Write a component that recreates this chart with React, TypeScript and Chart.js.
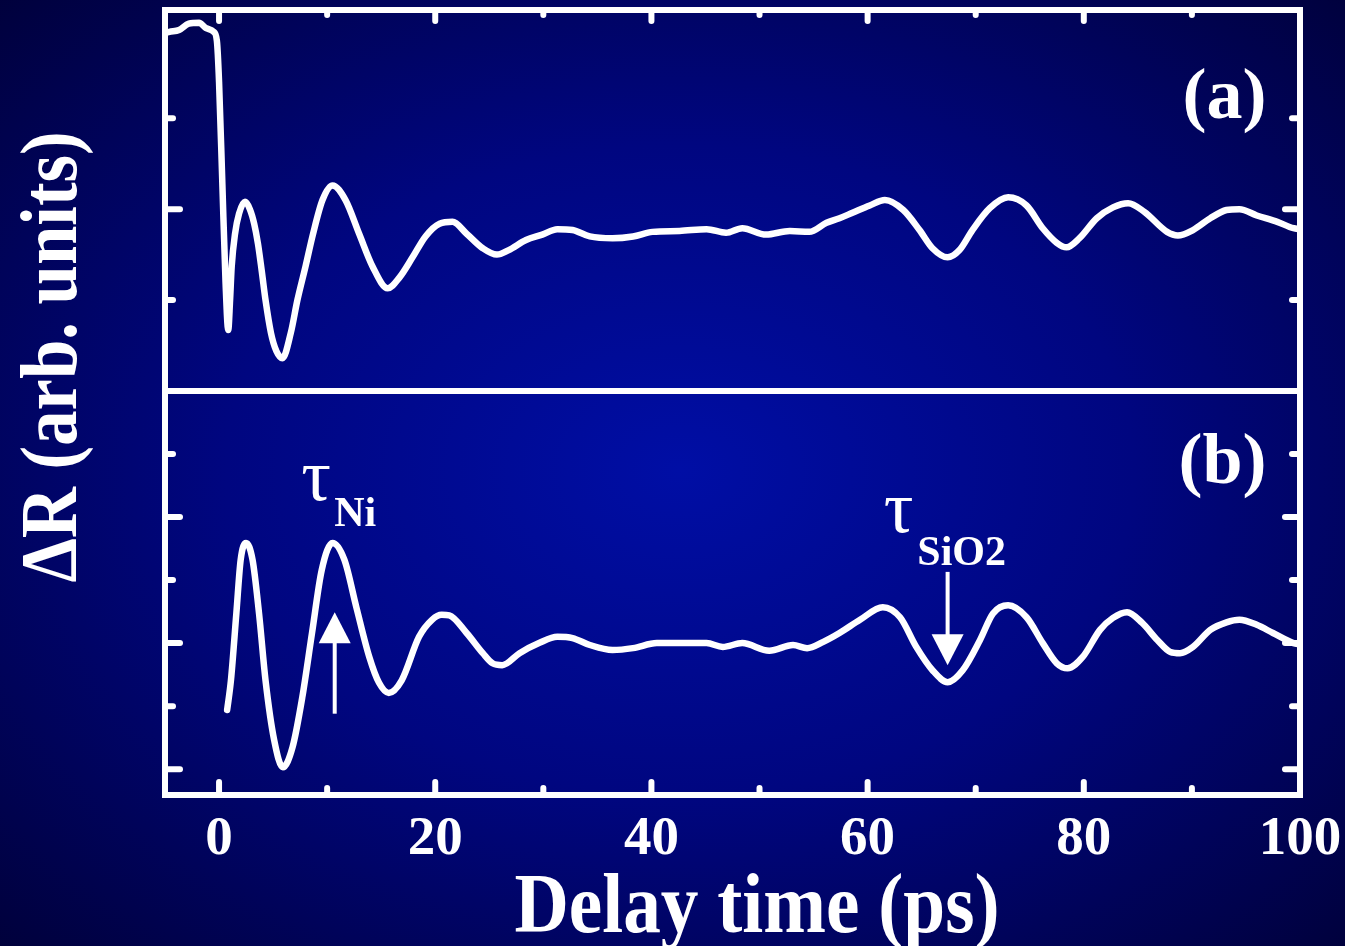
import React, { useEffect, useRef } from "react";
import { Chart, registerables } from "chart.js";

Chart.register(...registerables);

// ---- axis ticks ----
const xTickValues = [0, 20, 40, 60, 80, 100];
const xTickLabels = ["0", "20", "40", "60", "80", "100"];
const xMinorTicks = [10, 30, 50, 70, 90];
const yAMajorTicks = [0];
const yAMinorTicks = [-1, 1];
const yBMajorTicks = [-2, 0, 2];
const yBMinorTicks = [-1, 1, 3];

// ---- texts ----
const xTitle = "Delay time (ps)";
const yTitle = "ΔR (arb. units)";
const panelLabels = ["(a)", "(b)"];

// ---- series (a): [delay ps, ΔR arb.] ----
const panelA: [number, number][] = [
  [-4.9, 1.94], [-4.6, 1.95], [-3.7, 1.97], [-2.8, 2.04], [-1.85, 2.05], [-1.2, 1.99],
  [-0.5, 1.95], [-0.2, 1.85], [0.0, 1.4], [0.3, 0.3], [0.6, -0.8], [0.85, -1.33],
  [1.02, -1.0], [1.17, -0.63], [1.48, -0.27], [1.85, -0.05], [2.4, 0.08], [2.85, 0.0],
  [3.25, -0.16], [3.6, -0.38], [3.95, -0.68], [4.3, -1.0], [4.8, -1.36], [5.3, -1.56],
  [5.86, -1.64], [6.64, -1.36],
  [7.25, -1.0], [8.0, -0.63], [8.7, -0.27], [9.57, 0.1], [10.5, 0.26], [11.7, 0.1],
  [12.96, -0.27], [14.2, -0.63], [15.6, -0.87], [16.7, -0.75], [17.9, -0.53], [19.1, -0.3],
  [20.4, -0.16], [21.6, -0.14],
  [22.9, -0.27], [24.4, -0.43], [25.7, -0.5], [26.8, -0.45], [28.4, -0.34], [29.9, -0.28],
  [31.3, -0.22], [32.7, -0.23], [34.3, -0.3], [36.4, -0.32], [38.3, -0.3], [40.1, -0.25],
  [42.6, -0.24], [45.1, -0.22], [46.9, -0.26], [48.4, -0.21], [50.6, -0.28], [52.8, -0.24],
  [54.6, -0.25], [56.2, -0.15], [57.4, -0.1], [58.6, -0.04], [60.2, 0.04], [61.6, 0.1],
  [63.3, -0.01], [64.8, -0.23], [66.0, -0.43], [67.4, -0.53], [68.5, -0.45], [69.7, -0.23],
  [71.3, 0.01], [73.0, 0.13], [74.7, 0.04], [76.2, -0.21], [77.5, -0.37], [78.4, -0.42],
  [79.6, -0.32], [81.2, -0.1], [82.7, 0.02], [84.1, 0.066], [85.6, -0.03], [87.7, -0.25],
  [88.7, -0.29], [90.1, -0.23], [91.7, -0.1], [93.2, -0.01], [94.4, 0.0], [96.0, -0.07],
  [97.9, -0.14], [99.4, -0.21], [100, -0.22],
];

// ---- series (b): [delay ps, ΔR arb.] ----
const panelB: [number, number][] = [
  [0.75, -1.06], [1.1, -0.59], [1.6, 0.47], [2.0, 1.32], [2.5, 1.59], [3.1, 1.32],
  [3.7, 0.47], [4.3, -0.59], [5.1, -1.54], [5.9, -1.97], [6.8, -1.65], [7.7, -0.86],
  [8.6, 0.16], [9.5, 1.16], [10.5, 1.59], [11.6, 1.32], [12.7, 0.57], [13.9, -0.22],
  [14.8, -0.63], [15.7, -0.79], [16.9, -0.59], [18.5, 0.1], [19.7, 0.37], [20.6, 0.45],
  [21.3, 0.44], [22.9, 0.16], [24.4, -0.16], [25.3, -0.32], [26.2, -0.35], [27.8, -0.16],
  [29.6, 0.0], [31.3, 0.1], [32.7, 0.08], [34.3, -0.03], [36.4, -0.11], [38.3, -0.08],
  [40.5, 0.0], [42.6, 0.0], [45.1, 0.0], [46.6, -0.06], [48.4, 0.0], [50.9, -0.12],
  [53.1, -0.03], [54.4, -0.08], [55.9, 0.02], [57.4, 0.16], [59.3, 0.37], [61.4, 0.57],
  [63.0, 0.41], [64.5, -0.06], [66.0, -0.43], [67.4, -0.62], [68.8, -0.43], [70.4, 0.05],
  [71.6, 0.47], [73.0, 0.6], [74.7, 0.41], [76.2, 0.0], [77.5, -0.32], [78.5, -0.4],
  [79.9, -0.22], [81.5, 0.21], [82.7, 0.4], [84.0, 0.49], [85.4, 0.32], [86.8, 0.05],
  [88.0, -0.14], [88.9, -0.16], [90.1, -0.06], [91.7, 0.21], [93.2, 0.33], [94.4, 0.37],
  [96.0, 0.29], [97.5, 0.16], [99.4, 0.0], [100, -0.02],
];

// ---- annotations (data coordinates in panel b) ----
const niArrow = { x: 10.7, from: -1.12, to: 0.49 };
const sioArrow = { x: 67.4, from: 1.13, to: -0.35 };
const niLabel = { tauX: 7.6, tauY: 2.27, subX: 10.65, subY: 1.86, sub: "Ni" };
const sioLabel = { tauX: 61.5, tauY: 1.76, subX: 64.6, subY: 1.24, sub: "SiO2" };
const tau = "τ";

const SERIF = '"Liberation Serif", "Times New Roman", serif';

export default function App() {
  const ref = useRef<HTMLCanvasElement | null>(null);

  useEffect(() => {
    const canvas = ref.current;
    if (!canvas) return;

    const bgPlugin = {
      id: "bgGradient",
      beforeDraw(chart: any) {
        const ctx = chart.ctx;
        ctx.save();
        ctx.translate(680, 470);
        ctx.scale(1.4, 1);
        const g = ctx.createRadialGradient(0, 0, 0, 0, 0, 720);
        g.addColorStop(0, "rgb(0,14,165)");
        g.addColorStop(0.45, "rgb(0,6,128)");
        g.addColorStop(1, "rgb(0,0,52)");
        ctx.fillStyle = g;
        ctx.fillRect(-520, -520, 1040, 1040);
        ctx.restore();
      },
    };

    const framePlugin = {
      id: "frameTicks",
      afterDatasetsDraw(chart: any) {
        const ctx = chart.ctx;
        const { left, right, top, bottom } = chart.chartArea;
        const xs = chart.scales.x;
        const ya = chart.scales.yA;
        const yb = chart.scales.yB;
        ctx.save();
        ctx.strokeStyle = "#ffffff";
        ctx.lineWidth = 6;
        ctx.lineJoin = "miter";
        ctx.strokeRect(left, top, right - left, bottom - top);
        const mid = ya.bottom;
        ctx.beginPath();
        ctx.moveTo(left, mid);
        ctx.lineTo(right, mid);
        ctx.stroke();

        ctx.lineCap = "round";
        const seg = (x0: number, y0: number, x1: number, y1: number) => {
          ctx.beginPath();
          ctx.moveTo(x0, y0);
          ctx.lineTo(x1, y1);
          ctx.stroke();
        };
        xTickValues.forEach((v) => {
          const x = xs.getPixelForValue(v);
          seg(x, top, x, top + 11);
          seg(x, bottom, x, bottom - 13);
        });
        xMinorTicks.forEach((v) => {
          const x = xs.getPixelForValue(v);
          seg(x, top, x, top + 5);
          seg(x, bottom, x, bottom - 7);
        });
        const yTicks = (scale: any, vals: number[], len: number) => {
          vals.forEach((v) => {
            const y = scale.getPixelForValue(v);
            seg(left, y, left + len, y);
            seg(right, y, right - len, y);
          });
        };
        yTicks(ya, yAMajorTicks, 15);
        yTicks(ya, yAMinorTicks, 8);
        yTicks(yb, yBMajorTicks, 15);
        yTicks(yb, yBMinorTicks, 8);
        ctx.restore();
      },
      afterDraw(chart: any) {
        const ctx = chart.ctx;
        const xs = chart.scales.x;
        const ya = chart.scales.yA;
        const yb = chart.scales.yB;
        ctx.save();
        ctx.fillStyle = "#ffffff";
        ctx.strokeStyle = "#ffffff";

        // axis titles (condensed serif bold)
        ctx.font = `bold 84px ${SERIF}`;
        ctx.textAlign = "center";
        ctx.textBaseline = "alphabetic";
        let w = ctx.measureText(xTitle).width;
        ctx.save();
        ctx.translate(757, 932);
        ctx.scale(485 / w, 1);
        ctx.fillText(xTitle, 0, 0);
        ctx.restore();

        ctx.font = `bold 80px ${SERIF}`;
        w = ctx.measureText(yTitle).width;
        ctx.save();
        ctx.translate(76, 357);
        ctx.rotate(-Math.PI / 2);
        ctx.scale(451 / w, 1);
        ctx.fillText(yTitle, 0, 0);
        ctx.restore();

        // panel labels
        ctx.font = `bold 72px ${SERIF}`;
        ctx.textAlign = "right";
        ctx.fillText(panelLabels[0], xs.getPixelForValue(96.9), ya.getPixelForValue(1.0));
        ctx.fillText(panelLabels[1], xs.getPixelForValue(96.9), yb.getPixelForValue(2.54));

        // tau labels
        ctx.textAlign = "left";
        [niLabel, sioLabel].forEach((l) => {
          ctx.font = `74px ${SERIF}`;
          ctx.fillText(tau, xs.getPixelForValue(l.tauX), yb.getPixelForValue(l.tauY));
          ctx.font = `bold 42px ${SERIF}`;
          ctx.fillText(l.sub, xs.getPixelForValue(l.subX), yb.getPixelForValue(l.subY));
        });

        // arrows
        const arrow = (a: { x: number; from: number; to: number }) => {
          const x = xs.getPixelForValue(a.x);
          const y0 = yb.getPixelForValue(a.from);
          const y1 = yb.getPixelForValue(a.to);
          const dir = Math.sign(y1 - y0);
          ctx.lineWidth = 4;
          ctx.lineCap = "butt";
          ctx.beginPath();
          ctx.moveTo(x, y0);
          ctx.lineTo(x, y1 - dir * 26);
          ctx.stroke();
          ctx.beginPath();
          ctx.moveTo(x, y1);
          ctx.lineTo(x - 16, y1 - dir * 31);
          ctx.lineTo(x + 16, y1 - dir * 31);
          ctx.closePath();
          ctx.fill();
        };
        arrow(niArrow);
        arrow(sioArrow);
        ctx.restore();
      },
    };

    const lineStyle = {
      borderColor: "#ffffff",
      borderWidth: 6.5,
      pointRadius: 0,
      fill: false,
      cubicInterpolationMode: "monotone" as const,
      borderCapStyle: "round" as const,
      borderJoinStyle: "round" as const,
    };

    const hiddenY = {
      type: "linear" as const,
      position: "left" as const,
      stack: "panels",
      ticks: { display: false },
      grid: { display: false, drawTicks: false },
      border: { display: false },
      afterFit: (s: any) => {
        s.width = 0;
      },
    };

    const chart = new Chart(canvas, {
      type: "line",
      data: {
        datasets: [
          { ...lineStyle, label: "(a)", yAxisID: "yA", data: panelA.map(([x, y]) => ({ x, y })) },
          { ...lineStyle, label: "(b)", yAxisID: "yB", data: panelB.map(([x, y]) => ({ x, y })) },
        ],
      },
      options: {
        animation: false,
        responsive: false,
        devicePixelRatio: 1,
        layout: { padding: { left: 165, right: 45, top: 10, bottom: 0 } },
        plugins: { legend: { display: false }, tooltip: { enabled: false } },
        scales: {
          x: {
            type: "linear",
            min: -5,
            max: 100,
            afterBuildTicks: (s: any) => {
              s.ticks = xTickValues.map((v) => ({ value: v }));
            },
            afterFit: (s: any) => {
              s.height = 151;
              s.paddingLeft = 0;
              s.paddingRight = 0;
            },
            ticks: {
              color: "#ffffff",
              autoSkip: false,
              maxRotation: 0,
              padding: 12,
              font: { family: SERIF, size: 55, weight: "bold" },
              callback: (v: any) => {
                const i = xTickValues.indexOf(Number(v));
                return i >= 0 ? xTickLabels[i] : "";
              },
            },
            grid: { display: false, drawTicks: false },
            border: { display: false },
          },
          yB: { ...hiddenY, min: -2.41, max: 4.0, stackWeight: 404 },
          yA: { ...hiddenY, min: -2.0, max: 2.19, stackWeight: 381 },
        },
      } as any,
      plugins: [bgPlugin, framePlugin],
    });

    return () => chart.destroy();
  }, []);

  return (
    <div style={{ position: "fixed", left: 0, top: 0, width: 1345, height: 946, overflow: "hidden" }}>
      <canvas ref={ref} width={1345} height={946} style={{ display: "block", width: 1345, height: 946 }} />
    </div>
  );
}
